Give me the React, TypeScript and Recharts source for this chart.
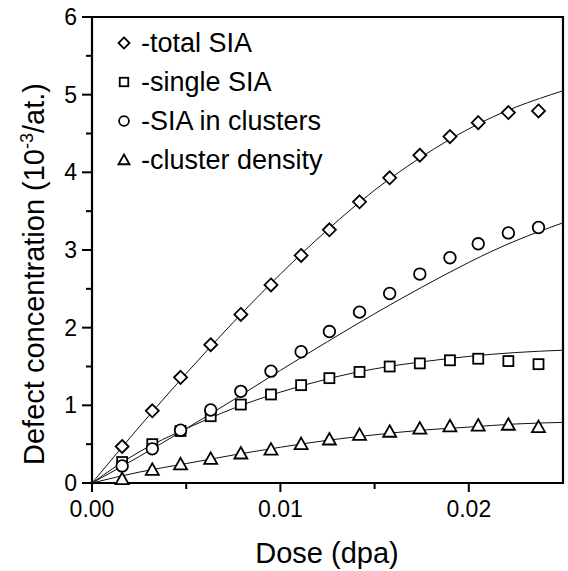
import { ComposedChart, Line, Scatter, XAxis, YAxis, Legend, Label, ReferenceArea } from "recharts";

// measured doses (dpa) and concentrations (10^-3 / at.)
const doses = [0.0016, 0.0032, 0.0047, 0.0063, 0.0079, 0.0095, 0.0111, 0.0126, 0.0142, 0.0158, 0.0174, 0.019, 0.0205, 0.0221, 0.0237];
const totalSIA = [0.47, 0.93, 1.36, 1.78, 2.17, 2.55, 2.93, 3.26, 3.62, 3.93, 4.22, 4.46, 4.64, 4.77, 4.79];
const singleSIA = [0.27, 0.5, 0.67, 0.86, 1.01, 1.14, 1.26, 1.35, 1.43, 1.5, 1.54, 1.58, 1.6, 1.57, 1.53];
const clusterSIA = [0.22, 0.44, 0.68, 0.94, 1.18, 1.44, 1.69, 1.95, 2.2, 2.44, 2.69, 2.9, 3.08, 3.22, 3.29];
const clusterDensity = [0.05, 0.17, 0.24, 0.31, 0.38, 0.43, 0.5, 0.56, 0.62, 0.66, 0.7, 0.73, 0.74, 0.75, 0.72];

// fitted curves
const fitDoses = [0, 0.0025, 0.005, 0.0075, 0.01, 0.0125, 0.015, 0.0175, 0.02, 0.0225, 0.025];
const totalFit = [0, 0.72, 1.41, 2.07, 2.69, 3.26, 3.77, 4.2, 4.56, 4.84, 5.05];
const singleFit = [0, 0.4, 0.7, 0.96, 1.17, 1.34, 1.47, 1.56, 1.63, 1.68, 1.71];
const clusterFit = [0, 0.34, 0.7, 1.07, 1.45, 1.82, 2.18, 2.52, 2.84, 3.12, 3.35];
const densityFit = [0, 0.14, 0.25, 0.36, 0.46, 0.55, 0.62, 0.68, 0.72, 0.76, 0.78];

const xTicks = [0, 0.005, 0.01, 0.015, 0.02];
const yTicks = [0, 0.5, 1, 1.5, 2, 2.5, 3, 3.5, 4, 4.5, 5, 5.5, 6];

const legendItems = [
  { name: "-total SIA", shape: "diamond" },
  { name: "-single SIA", shape: "square" },
  { name: "-SIA in clusters", shape: "circle" },
  { name: "-cluster density", shape: "triangle" },
];

const FONT = "'Liberation Sans', Arial, Helvetica, sans-serif";

const pts = (xs: number[], ys: number[]) => xs.map((d, i) => ({ dose: d, v: ys[i] }));

function Marker({ kind, cx, cy, s = 1 }: { kind: string; cx: number; cy: number; s?: number }) {
  const common = { fill: "#fff", stroke: "#000", strokeWidth: 1.8 };
  if (kind === "diamond") {
    const r = 6.5 * s;
    return <polygon points={`${cx},${cy - r} ${cx + r},${cy} ${cx},${cy + r} ${cx - r},${cy}`} {...common} />;
  }
  if (kind === "square") {
    const h = 5 * s;
    return <rect x={cx - h} y={cy - h} width={2 * h} height={2 * h} {...common} />;
  }
  if (kind === "circle") {
    return <circle cx={cx} cy={cy} r={5.8 * s} {...common} />;
  }
  const w = 6.5 * s;
  return <polygon points={`${cx},${cy - 6.5 * s} ${cx + w},${cy + 5 * s} ${cx - w},${cy + 5 * s}`} {...common} />;
}

const shapeOf = (kind: string) => (props: any) => <Marker kind={kind} cx={props.cx} cy={props.cy} />;

function XTick({ x, y, payload }: any) {
  const v = payload.value;
  const major = Math.abs(v * 100 - Math.round(v * 100)) < 1e-6;
  return (
    <g>
      <line x1={x} x2={x} y1={y} y2={y + (major ? 9 : 6)} stroke="#000" strokeWidth={2} />
      {major && (
        <text x={x} y={y + 34} textAnchor="middle" fontSize={23} fontFamily={FONT} fill="#000">
          {v.toFixed(2)}
        </text>
      )}
    </g>
  );
}

function YTick({ x, y, payload }: any) {
  const v = payload.value;
  const major = Number.isInteger(v);
  return (
    <g>
      <line x1={x - (major ? 10 : 6)} x2={x} y1={y} y2={y} stroke="#000" strokeWidth={2} />
      {major && (
        <text x={x - 15} y={y + 8} textAnchor="end" fontSize={23} fontFamily={FONT} fill="#000">
          {v}
        </text>
      )}
    </g>
  );
}

function LegendBox() {
  return (
    <svg width={420} height={180} style={{ display: "block" }}>
      {legendItems.map((it, i) => {
        const cy = 43 + i * 39;
        return (
          <g key={it.name}>
            <Marker kind={it.shape} cx={124} cy={cy} s={0.85} />
            <text x={141} y={cy + 9} fontSize={27} fontFamily={FONT} fill="#000">
              {it.name}
            </text>
          </g>
        );
      })}
    </svg>
  );
}

export default function App() {
  return (
    <div style={{ position: "absolute", left: 0, top: 0, background: "#fff" }}>
      <ComposedChart width={568} height={571} margin={{ top: 17, right: 5, bottom: 28, left: 32 }}>
        <XAxis
          dataKey="dose"
          type="number"
          domain={[0, 0.025]}
          ticks={xTicks}
          tick={<XTick />}
          tickLine={false}
          tickSize={0}
          tickMargin={0}
          axisLine={false}
          height={60}
          interval={0}
        >
          <Label
            content={() => (
              <text x={327} y={563} textAnchor="middle" fontSize={29} fontFamily={FONT} fill="#000">
                Dose (dpa)
              </text>
            )}
          />
        </XAxis>
        <YAxis
          type="number"
          domain={[0, 6]}
          ticks={yTicks}
          tick={<YTick />}
          tickLine={false}
          tickSize={0}
          tickMargin={0}
          axisLine={false}
          width={60}
          interval={0}
        >
          <Label
            content={() => (
              <text
                transform="translate(44,274) rotate(-90)"
                textAnchor="middle"
                fontSize={29}
                fontFamily={FONT}
                fill="#000"
              >
                Defect concentration (10
                <tspan dy={-11} fontSize={18}>-3</tspan>
                <tspan dy={11}>/at.)</tspan>
              </text>
            )}
          />
        </YAxis>
        <ReferenceArea x1={0} x2={0.025} y1={0} y2={6} fill="none" stroke="#000" strokeWidth={2.2} />
        <Line data={pts(fitDoses, totalFit)} dataKey="v" type="natural" stroke="#111" strokeWidth={1} dot={false} isAnimationActive={false} />
        <Line data={pts(fitDoses, singleFit)} dataKey="v" type="natural" stroke="#111" strokeWidth={1} dot={false} isAnimationActive={false} />
        <Line data={pts(fitDoses, clusterFit)} dataKey="v" type="natural" stroke="#111" strokeWidth={1} dot={false} isAnimationActive={false} />
        <Line data={pts(fitDoses, densityFit)} dataKey="v" type="natural" stroke="#111" strokeWidth={1} dot={false} isAnimationActive={false} />
        <Scatter data={pts(doses, totalSIA)} dataKey="v" shape={shapeOf("diamond")} isAnimationActive={false} />
        <Scatter data={pts(doses, singleSIA)} dataKey="v" shape={shapeOf("square")} isAnimationActive={false} />
        <Scatter data={pts(doses, clusterSIA)} dataKey="v" shape={shapeOf("circle")} isAnimationActive={false} />
        <Scatter data={pts(doses, clusterDensity)} dataKey="v" shape={shapeOf("triangle")} isAnimationActive={false} />
        <Legend
          layout="vertical"
          align="center"
          verticalAlign="middle"
          content={() => <LegendBox />}
          wrapperStyle={{ left: 0, top: 0, width: 420, height: 180 }}
        />
      </ComposedChart>
    </div>
  );
}
